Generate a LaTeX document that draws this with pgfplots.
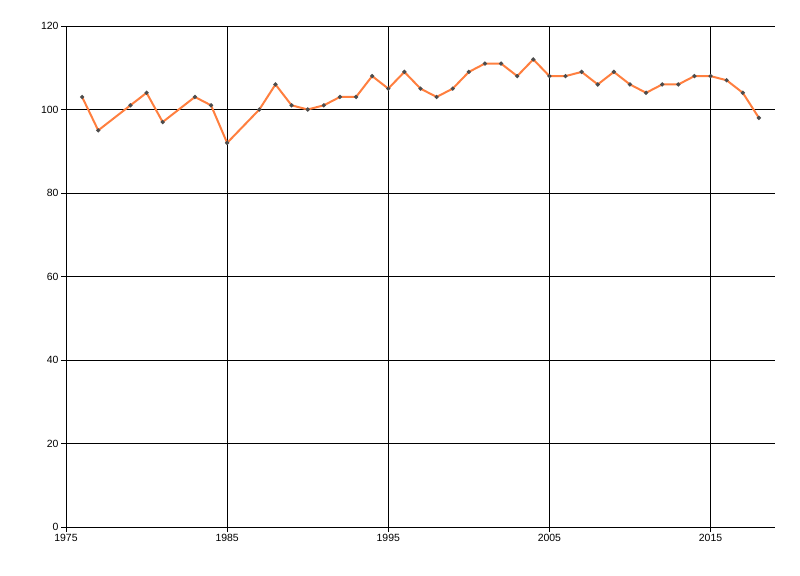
\documentclass[border=0pt]{standalone}
\usepackage{pgfplots}
\pgfplotsset{compat=1.18}
\usepackage{fontspec}
\setmainfont{Liberation Sans}
\usetikzlibrary{calc}
\definecolor{lineorange}{HTML}{FF7F3F}
\begin{document}
\begin{tikzpicture}
\begin{axis}[
  scale only axis,
  width=709bp, height=501bp,
  xmin=1975, xmax=2019, ymin=0, ymax=120,
  axis lines*=left,
  axis line style={black, line width=0.9bp},
  xtick={1975,1985,...,2015}, ytick={0,20,...,120},
  grid=major,
  major grid style={black, line width=0.8bp},
  tick style={black, line width=0.8bp},
  tick align=outside, major tick length=5bp,
  ticklabel style={font=\fontsize{10.5}{12}\selectfont},
  /pgf/number format/assume math mode=true,
  /pgf/number format/1000 sep={},
  xticklabel style={yshift=1bp},
  yticklabel style={xshift=1bp},
]
\addplot[lineorange, line width=2bp, mark=*, mark size=0.9bp,
  mark options={draw=black!70, fill=black!70}]
  coordinates {
  (1976,103) (1977,95) (1979,101) (1980,104) (1981,97) (1983,103) (1984,101)
  (1985,92) (1987,100) (1988,106) (1989,101) (1990,100) (1991,101) (1992,103)
  (1993,103) (1994,108) (1995,105) (1996,109) (1997,105) (1998,103) (1999,105)
  (2000,109) (2001,111) (2002,111) (2003,108) (2004,112) (2005,108) (2006,108)
  (2007,109) (2008,106) (2009,109) (2010,106) (2011,104) (2012,106) (2013,106)
  (2014,108) (2015,108) (2016,107) (2017,104) (2018,98)
  };
\end{axis}
\useasboundingbox ($(current axis.south west)+(-66bp,-49bp)$) rectangle ($(current axis.north east)+(25bp,26bp)$);
\end{tikzpicture}
\end{document}
